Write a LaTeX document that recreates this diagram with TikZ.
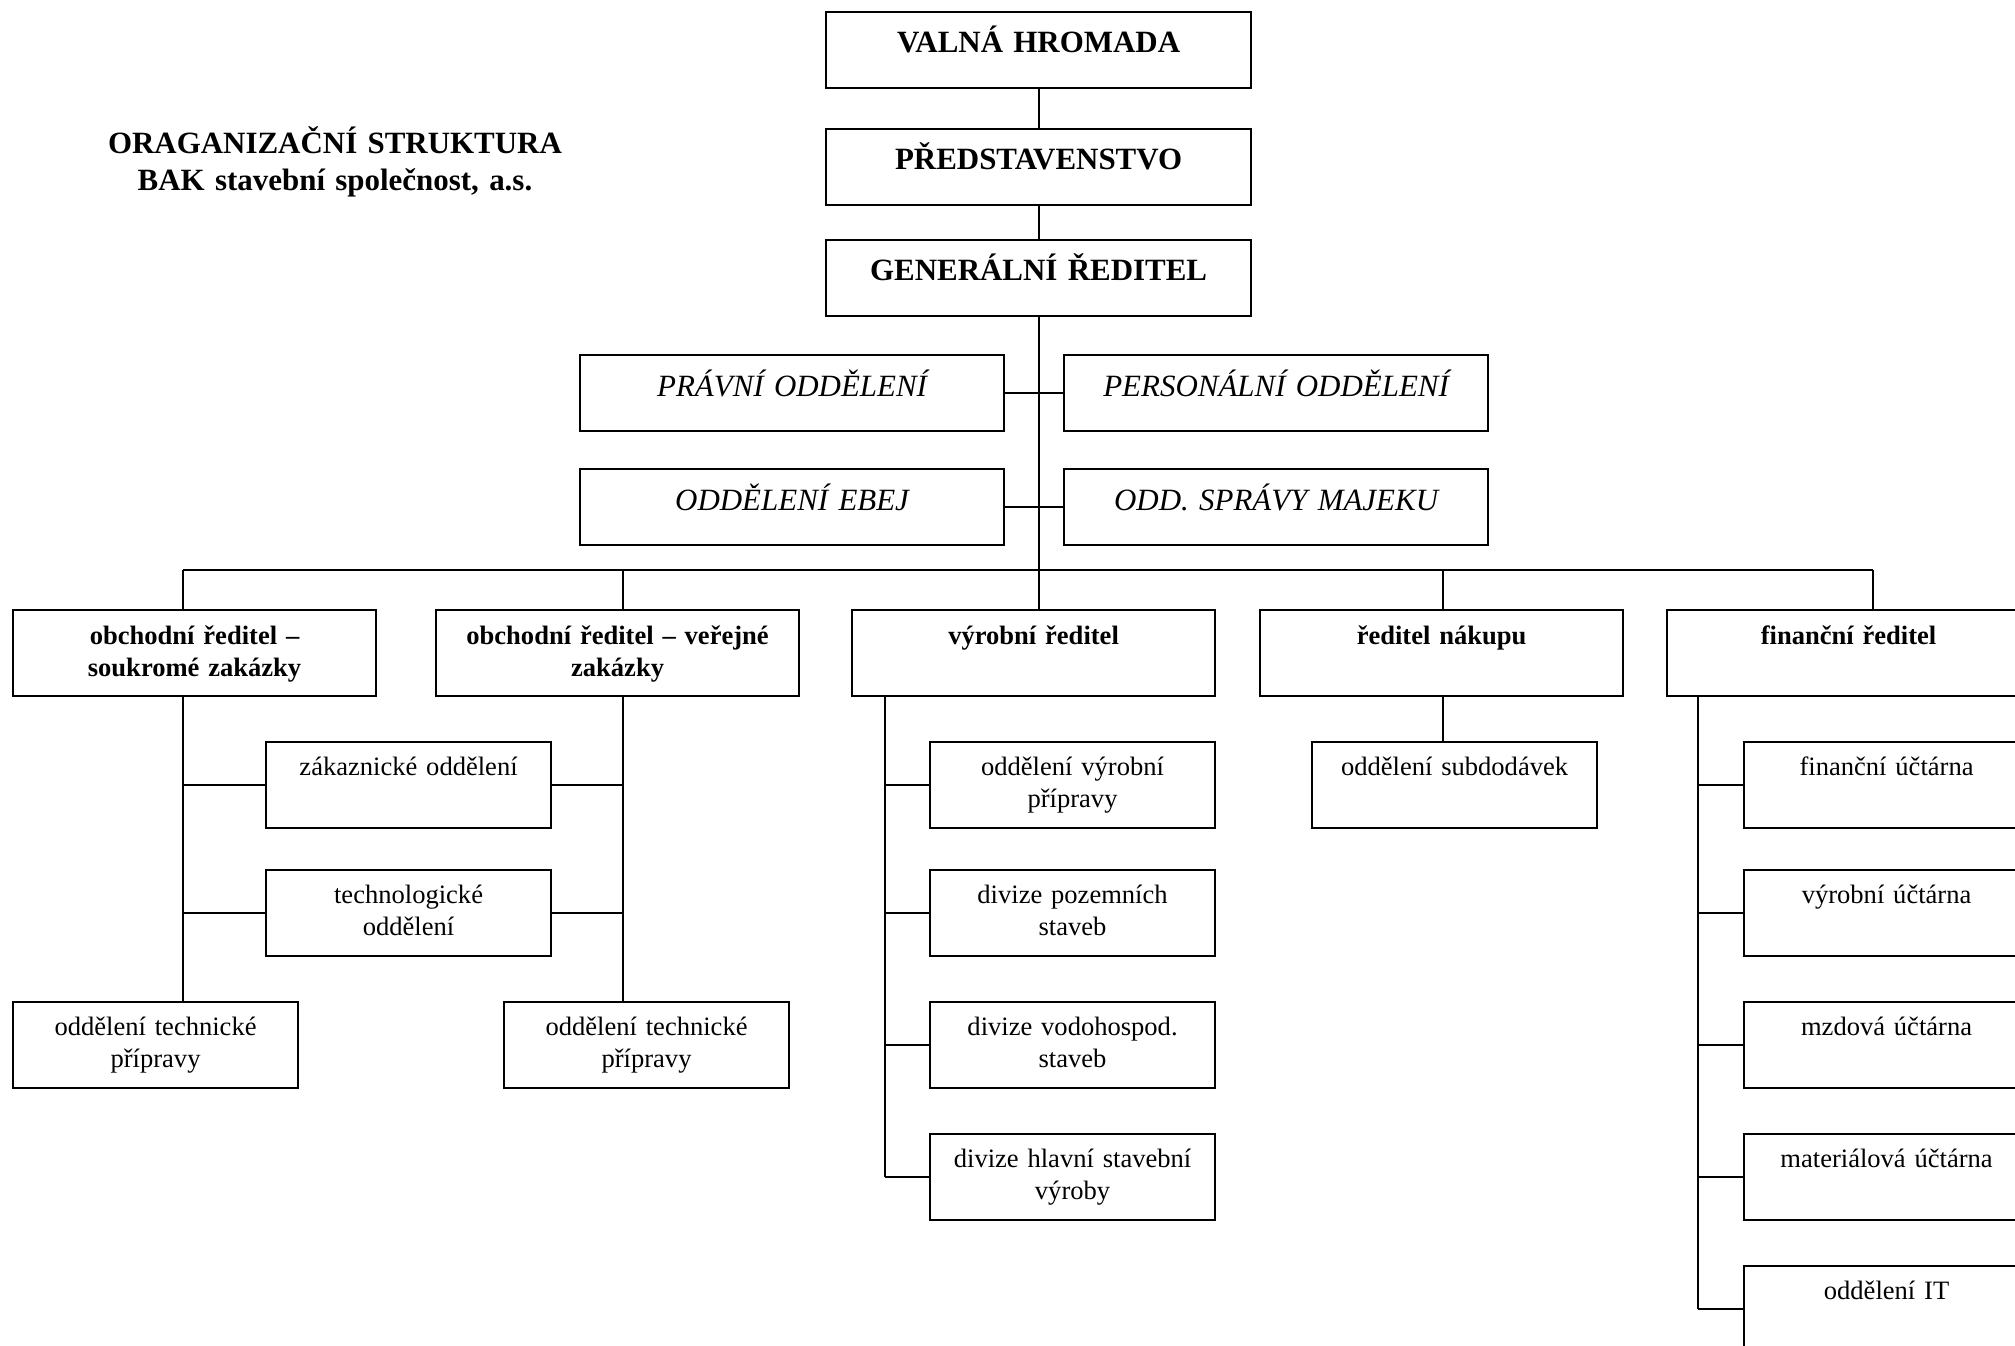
\documentclass[tikz,border=0pt]{standalone}
\usepackage{fontspec}
\setmainfont{Liberation Serif}
\newcommand\velke{\fontsize{8.8}{10.5}\selectfont}
\newcommand\male{\fontsize{7.55}{9.1}\selectfont}
\tikzset{
  box/.style={draw, inner sep=0pt, anchor=north west, align=center},
  topbox/.style={box, text width=4.25cm, text height=0.41cm, text depth=0.35cm, font=\velke\bfseries},
  sidebox/.style={box, text width=4.24cm, text height=0.42cm, text depth=0.34cm, font=\velke\itshape},
  dirbox/.style={box, text width=3.63cm, text height=0.35cm, text depth=0.51cm, font=\male\bfseries},
  deptbox/.style={box, text width=2.85cm, text height=0.335cm, text depth=0.525cm, font=\male},
  titul/.style={inner sep=0pt, anchor=north, align=center, text width=5.5cm, text height=0.21cm, font=\fontsize{8.8}{10.5}\selectfont\bfseries}
}
\begin{document}
\begin{tikzpicture}[x=0.01cm, y=-0.01cm, line width=0.55pt]
\useasboundingbox (0,0) rectangle (2015,1346);
\node[titul] (nazev) at (335,132) {ORAGANIZAČNÍ STRUKTURA\\BAK stavební společnost, a.s.};
\node[topbox] (valna) at (825,11) {VALNÁ HROMADA};
\node[topbox] (predst) at (825,128) {PŘEDSTAVENSTVO};
\node[topbox] (genred) at (825,239) {GENERÁLNÍ ŘEDITEL};
\node[sidebox] (pravni) at (579,354) {PRÁVNÍ ODDĚLENÍ};
\node[sidebox] (person) at (1063,354) {PERSONÁLNÍ ODDĚLENÍ};
\node[sidebox] (ebej) at (579,468) {ODDĚLENÍ EBEJ};
\node[sidebox] (majek) at (1063,468) {ODD. SPRÁVY MAJEKU};
\node[dirbox] (soukr) at (12,609) {obchodní ředitel –\\soukromé zakázky};
\node[dirbox] (verej) at (435,609) {obchodní ředitel – veřejné\\zakázky};
\node[dirbox] (vyrob) at (851,609) {výrobní ředitel};
\node[dirbox] (nakup) at (1259,609) {ředitel nákupu};
\node[dirbox] (financ) at (1666,609) {finanční ředitel};
\node[deptbox] (zakaz) at (265,741) {zákaznické oddělení};
\node[deptbox] (techno) at (265,869) {technologické\\oddělení};
\node[deptbox] (techL) at (12,1001) {oddělení technické\\přípravy};
\node[deptbox] (techR) at (503,1001) {oddělení technické\\přípravy};
\node[deptbox] (vyr1) at (929,741) {oddělení výrobní\\přípravy};
\node[deptbox] (vyr2) at (929,869) {divize pozemních\\staveb};
\node[deptbox] (vyr3) at (929,1001) {divize vodohospod.\\staveb};
\node[deptbox] (vyr4) at (929,1133) {divize hlavní stavební\\výroby};
\node[deptbox] (nak1) at (1311,741) {oddělení subdodávek};
\node[deptbox] (fin1) at (1743,741) {finanční účtárna};
\node[deptbox] (fin2) at (1743,869) {výrobní účtárna};
\node[deptbox] (fin3) at (1743,1001) {mzdová účtárna};
\node[deptbox] (fin4) at (1743,1133) {materiálová účtárna};
\node[deptbox] (fin5) at (1743,1265) {oddělení IT};
\coordinate (pSoukr) at (183,570);
\coordinate (pVerej) at (623,570);
\coordinate (pNakup) at (1443,570);
\coordinate (pFinanc) at (1873,570);
\coordinate (tVyrob) at (885,695);
\coordinate (tFinanc) at (1698,695);
\draw (valna) -- (predst);
\draw (predst) -- (genred);
\draw (genred.south) -- (genred.south |- vyrob.north);
\draw (pravni) -- (person);
\draw (ebej) -- (majek);
\draw (pSoukr) -- (pFinanc);
\foreach \p/\n in {pSoukr/soukr, pVerej/verej, pNakup/nakup, pFinanc/financ}
  \draw (\p) -- (\p |- \n.north);
\draw (pSoukr |- soukr.south) -- (pSoukr |- techL.north);
\draw (pVerej |- verej.south) -- (pVerej |- techR.north);
\foreach \n in {zakaz, techno} {
  \draw (pSoukr |- \n.west) -- (\n.west);
  \draw (\n.east) -- (pVerej |- \n.east);
}
\draw (tVyrob) -- (tVyrob |- vyr4.west);
\foreach \n in {vyr1, vyr2, vyr3, vyr4}
  \draw (tVyrob |- \n.west) -- (\n.west);
\draw (pNakup |- nakup.south) -- (pNakup |- nak1.north);
\draw (tFinanc) -- (tFinanc |- fin5.west);
\foreach \n in {fin1, fin2, fin3, fin4, fin5}
  \draw (tFinanc |- \n.west) -- (\n.west);
\end{tikzpicture}
\end{document}
